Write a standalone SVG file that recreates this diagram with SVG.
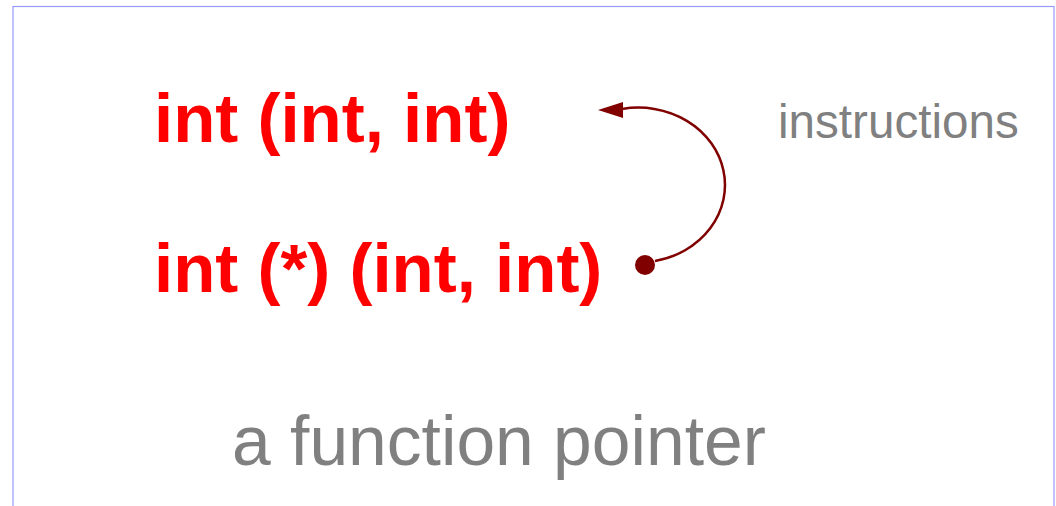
<svg xmlns="http://www.w3.org/2000/svg" width="1056" height="506" viewBox="0 0 1056 506">
<style>
.code{font-family:"Liberation Sans",Arial,sans-serif;font-weight:bold;font-size:69px;fill:#ff0000}
.gray{font-family:"Liberation Sans",Arial,sans-serif;fill:#808080}
</style>
<rect x="13" y="6.5" width="1041" height="520" fill="#ffffff" stroke="#9999ff" stroke-width="1.2"/>
<g id="func-type"><text class="code" x="154" y="142">int (int, int)</text></g>
<g id="func-pointer"><text class="code" x="154" y="292">int (*) (int, int)</text></g>
<g id="instructions"><text class="gray" x="778" y="138" font-size="47.6">instructions</text></g>
<g id="caption"><text class="gray" x="232" y="465" font-size="69.6">a function pointer</text></g>
<g id="connectors">
<path d="M 655 261 A 86 77 0 1 0 622 109" fill="none" stroke="#800000" stroke-width="2.5"/>
<polygon points="598,110 623,102 623,118" fill="#800000"/>
<circle cx="645" cy="265" r="10" fill="#800000"/>
</g>
</svg>
